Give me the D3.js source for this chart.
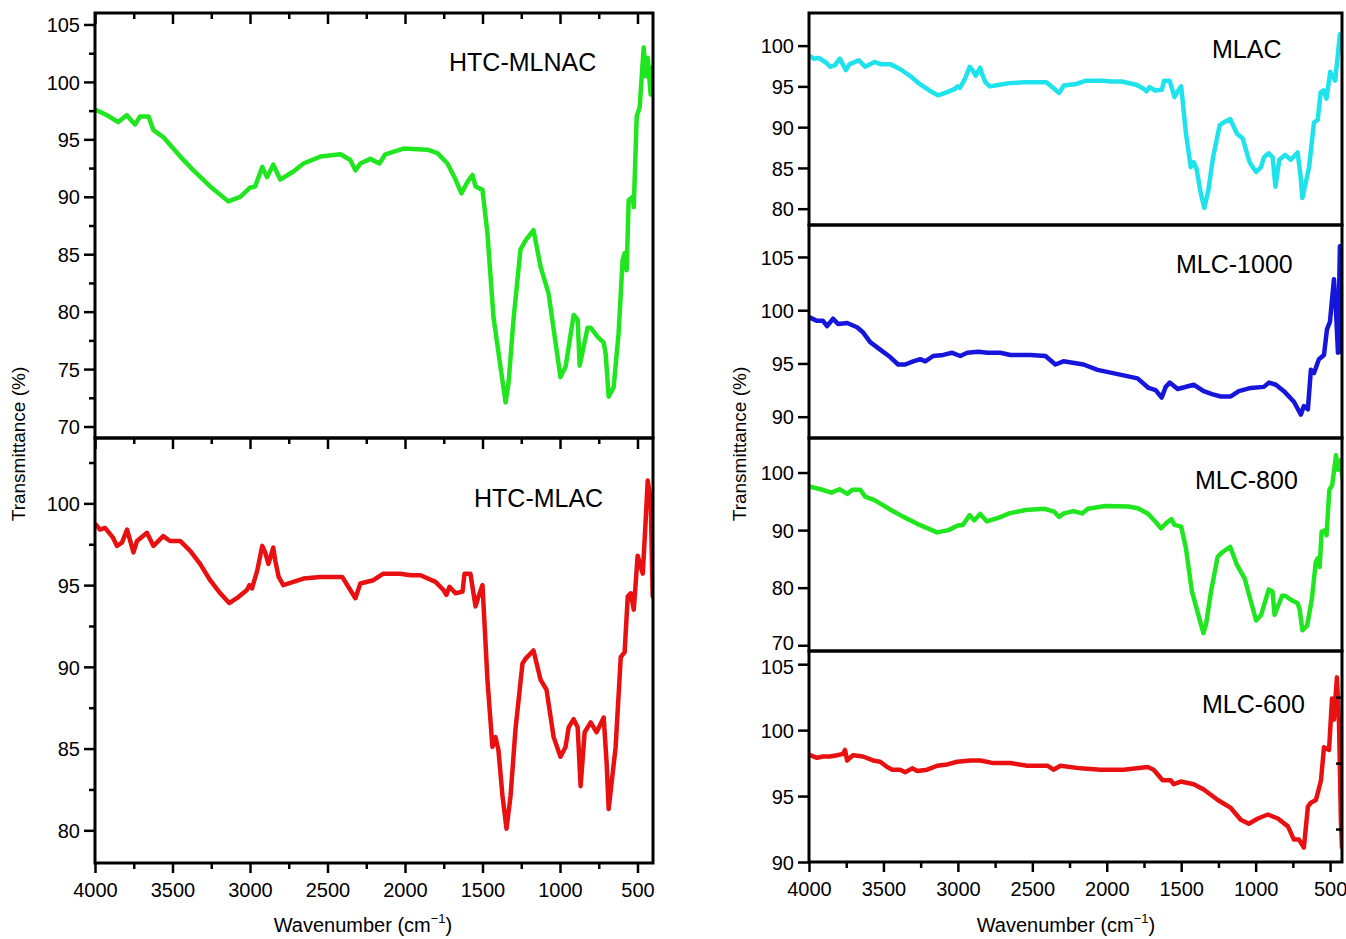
<!DOCTYPE html>
<html>
<head>
<meta charset="utf-8">
<script src="https://cdn.jsdelivr.net/npm/d3@7/dist/d3.min.js"></script>
<style>
  body { margin: 0; background: #fff; }
  svg { font-family: "Liberation Sans", Arial, sans-serif; }
</style>
</head>
<body>
<div id="chart"></div>
<script>
// FTIR spectra: [wavenumber (cm-1), transmittance (%)]
var htcMlnac = [
  [4000, 97.6], [3922, 97.1], [3850, 96.5], [3795, 97.1], [3742, 96.3], [3709, 97.0],
  [3655, 97.0], [3623, 95.8], [3560, 95.2], [3450, 93.5], [3365, 92.3], [3257, 90.9],
  [3140, 89.6], [3063, 90.0], [3000, 90.8], [2967, 90.9], [2921, 92.6], [2890, 91.7],
  [2850, 92.8], [2805, 91.5], [2720, 92.2], [2655, 92.9], [2546, 93.5], [2417, 93.7],
  [2353, 93.2], [2320, 92.3], [2288, 92.9], [2224, 93.3], [2165, 92.9], [2127, 93.7],
  [2010, 94.2], [1855, 94.1], [1791, 93.8], [1726, 92.9], [1674, 91.5], [1636, 90.3],
  [1597, 91.3], [1565, 91.9], [1545, 90.9], [1500, 90.6], [1468, 86.8], [1429, 79.5],
  [1384, 75.2], [1351, 72.1], [1332, 73.8], [1300, 79.3], [1255, 85.4], [1222, 86.2],
  [1171, 87.1], [1125, 83.9], [1074, 81.6], [997, 74.3], [964, 75.2], [912, 79.7],
  [886, 79.3], [873, 75.3], [822, 78.6], [802, 78.6], [757, 77.8], [718, 77.3],
  [705, 76.3], [686, 72.6], [654, 73.4], [622, 78.1], [596, 84.5], [583, 85.1],
  [570, 83.6], [557, 89.7], [531, 90.0], [524, 89.1], [505, 97.0], [486, 97.8],
  [460, 103.0], [447, 100.5], [434, 102.1], [415, 98.9], [402, 101.3]
];

var htcMlac = [
  [3994, 98.7], [3968, 98.4], [3935, 98.5], [3884, 97.9], [3858, 97.4], [3826, 97.6],
  [3793, 98.4], [3752, 97.0], [3729, 97.7], [3690, 98.0], [3665, 98.2], [3623, 97.4],
  [3560, 98.0], [3516, 97.7], [3451, 97.7], [3386, 97.1], [3322, 96.3], [3257, 95.3],
  [3192, 94.5], [3134, 93.9], [3085, 94.2], [3020, 94.7], [3003, 95.0], [2987, 94.8],
  [2953, 95.9], [2921, 97.4], [2902, 97.0], [2881, 96.3], [2850, 97.3], [2837, 96.5],
  [2815, 95.5], [2785, 95.0], [2720, 95.2], [2655, 95.4], [2546, 95.5], [2405, 95.5],
  [2353, 94.7], [2320, 94.2], [2288, 95.1], [2204, 95.3], [2140, 95.7], [2030, 95.7],
  [1965, 95.6], [1900, 95.6], [1803, 95.2], [1752, 94.7], [1733, 94.4], [1713, 94.9],
  [1674, 94.5], [1629, 94.6], [1616, 95.7], [1578, 95.7], [1545, 93.7], [1526, 94.3],
  [1500, 95.0], [1468, 89.2], [1436, 85.1], [1416, 85.7], [1397, 84.9], [1371, 82.1],
  [1345, 80.1], [1319, 82.1], [1287, 86.2], [1242, 90.2], [1222, 90.5], [1171, 91.0],
  [1125, 89.2], [1087, 88.6], [1041, 85.7], [997, 84.5], [964, 85.1], [944, 86.3],
  [912, 86.8], [886, 86.3], [867, 82.7], [841, 86.0], [802, 86.6], [764, 86.0],
  [718, 86.9], [699, 84.1], [686, 81.3], [660, 83.5], [641, 85.1], [608, 90.6],
  [583, 90.9], [563, 94.3], [544, 94.5], [524, 93.5], [499, 96.8], [479, 96.1],
  [466, 95.7], [447, 99.0], [434, 101.4], [415, 100.2], [402, 94.3]
];

var mlc1000 = [
  [3993, 99.3], [3946, 99.0], [3906, 99.0], [3879, 98.5], [3838, 99.2], [3805, 98.7],
  [3744, 98.8], [3677, 98.4], [3636, 97.9], [3589, 97.0], [3522, 96.3], [3455, 95.6],
  [3401, 94.9], [3354, 94.9], [3300, 95.2], [3253, 95.4], [3219, 95.2], [3166, 95.7],
  [3098, 95.8], [3038, 96.0], [2984, 95.7], [2937, 96.0], [2863, 96.1], [2802, 96.0],
  [2715, 96.0], [2647, 95.8], [2513, 95.8], [2412, 95.7], [2345, 94.9], [2291, 95.2],
  [2156, 94.9], [2062, 94.4], [1927, 94.0], [1793, 93.6], [1719, 92.7], [1672, 92.5],
  [1631, 91.8], [1604, 92.8], [1577, 93.2], [1524, 92.6], [1416, 93.0], [1349, 92.4],
  [1288, 92.1], [1234, 91.9], [1167, 91.9], [1113, 92.4], [1032, 92.7], [945, 92.8],
  [911, 93.2], [864, 93.0], [810, 92.4], [743, 91.4], [696, 90.2], [676, 91.0],
  [649, 90.7], [629, 94.4], [608, 94.1], [575, 95.4], [541, 95.8], [521, 98.2],
  [501, 98.9], [474, 102.9], [461, 100.1], [447, 96.0], [434, 106.0], [420, 102.3],
  [420, 96.0]
];

var mlc600 = [
  [3993, 98.1], [3946, 97.9], [3906, 98.0], [3859, 98.0], [3812, 98.1], [3771, 98.2],
  [3758, 98.5], [3744, 97.7], [3704, 98.1], [3637, 98.0], [3570, 97.7], [3522, 97.6],
  [3475, 97.2], [3441, 97.0], [3388, 97.0], [3354, 96.8], [3307, 97.1], [3273, 96.9],
  [3206, 97.0], [3139, 97.3], [3071, 97.4], [3004, 97.6], [2917, 97.7], [2849, 97.7],
  [2762, 97.5], [2647, 97.5], [2533, 97.3], [2445, 97.3], [2399, 97.3], [2358, 97.0],
  [2311, 97.3], [2176, 97.1], [2042, 97.0], [1887, 97.0], [1725, 97.2], [1685, 97.0],
  [1625, 96.2], [1571, 96.2], [1550, 95.9], [1503, 96.1], [1416, 95.9], [1349, 95.5],
  [1254, 94.7], [1167, 94.1], [1100, 93.2], [1046, 92.9], [985, 93.3], [918, 93.6],
  [851, 93.3], [783, 92.7], [743, 91.7], [709, 91.7], [676, 91.1], [649, 94.2],
  [629, 94.5], [595, 94.7], [561, 96.2], [541, 98.7], [507, 98.5], [487, 102.4],
  [474, 100.8], [454, 104.0], [440, 100.5], [427, 93.0], [420, 91.1]
];

// MLAC and MLC-800 are plotted with the same traces as HTC-MLAC and HTC-MLNAC
var mlac = htcMlac;
var mlc800 = htcMlnac;

var seriesNames = ["HTC-MLNAC", "HTC-MLAC", "MLAC", "MLC-1000", "MLC-800", "MLC-600"];
var seriesData = [htcMlnac, htcMlac, mlac, mlc1000, mlc800, mlc600];
var seriesColors = ["#1fe61f", "#e81010", "#1ee3ec", "#1515dc", "#1fe61f", "#e81010"];

var xTicksMajor = [4000, 3500, 3000, 2500, 2000, 1500, 1000, 500];
var xTicksMinor = [3750, 3250, 2750, 2250, 1750, 1250, 750];

var yDomains = [[69, 106], [78, 104], [78, 104], [88, 108], [69, 106], [90, 106]];
var yTicks = [
  [70, 75, 80, 85, 90, 95, 100, 105],
  [80, 85, 90, 95, 100],
  [80, 85, 90, 95, 100],
  [90, 95, 100, 105],
  [70, 80, 90, 100],
  [90, 95, 100, 105]
];
var yMinor = [
  [72.5, 77.5, 82.5, 87.5, 92.5, 97.5, 102.5],
  [82.5, 87.5, 92.5, 97.5, 102.5],
  [], [], [], []
];
var rightMinor = [[], [], [], [], [], [92.5, 97.5, 102.5]];

// layout (pixel boxes of each panel)
var panels = [
  { x0: 95, x1: 653, y0: 13, y1: 438, wEnd: 400, topTicks: true, bottom: false, lx: 449, ly: 71 },
  { x0: 95, x1: 653, y0: 438, y1: 863, wEnd: 400, topTicks: true, bottom: true, lx: 474, ly: 507 },
  { x0: 809, x1: 1342, y0: 13, y1: 225, wEnd: 420, topTicks: false, bottom: false, lx: 1212, ly: 58 },
  { x0: 809, x1: 1342, y0: 225, y1: 438, wEnd: 420, topTicks: false, bottom: false, lx: 1176, ly: 273 },
  { x0: 809, x1: 1342, y0: 438, y1: 651, wEnd: 420, topTicks: false, bottom: false, lx: 1195, ly: 489 },
  { x0: 809, x1: 1342, y0: 651, y1: 862, wEnd: 420, topTicks: false, bottom: true, lx: 1202, ly: 713 }
];

var svg = d3.select("#chart").append("svg")
  .attr("width", 1346)
  .attr("height", 939);

var fontSize = 20;

function styleAxis(g) {
  g.select(".domain").remove();
  g.selectAll(".tick line").attr("stroke", "#000").attr("stroke-width", 2.5);
  g.selectAll(".tick text").attr("fill", "#000").style("font-size", fontSize + "px");
}

panels.forEach(function(p, i) {
  var x = d3.scaleLinear().domain([4000, p.wEnd]).range([p.x0, p.x1]);
  var y = d3.scaleLinear().domain(yDomains[i]).range([p.y1, p.y0]);

  var clipId = "clip" + i;
  svg.append("clipPath").attr("id", clipId)
    .append("rect")
    .attr("x", p.x0).attr("y", p.y0)
    .attr("width", p.x1 - p.x0).attr("height", p.y1 - p.y0);

  var line = d3.line()
    .x(d => x(d[0]))
    .y(d => y(d[1]));

  svg.append("path")
    .datum(seriesData[i])
    .attr("clip-path", "url(#" + clipId + ")")
    .attr("fill", "none")
    .attr("stroke", seriesColors[i])
    .attr("stroke-width", 4.5)
    .attr("stroke-linejoin", "round")
    .attr("stroke-linecap", "round")
    .attr("d", line);

  // left axis
  var gy = svg.append("g")
    .attr("transform", `translate(${p.x0},0)`)
    .call(d3.axisLeft(y).tickValues(yTicks[i]).tickFormat(d3.format("d")).tickSize(11).tickPadding(4));
  styleAxis(gy);
  gy.selectAll(".tick text").attr("dy", "0.36em");
  // labels squeezed at the join of MLC-800 / MLC-600
  if (i === 4) gy.selectAll(".tick text").filter(d => d === 70).attr("dy", "0.2em");
  if (i === 5) gy.selectAll(".tick text").filter(d => d === 105).attr("dy", "0.48em");

  if (yMinor[i].length) {
    var gym = svg.append("g")
      .attr("transform", `translate(${p.x0},0)`)
      .call(d3.axisLeft(y).tickValues(yMinor[i]).tickFormat("").tickSize(6));
    styleAxis(gym);
  }
  if (rightMinor[i].length) {
    var gyr = svg.append("g")
      .attr("transform", `translate(${p.x1},0)`)
      .call(d3.axisRight(y).tickValues(rightMinor[i]).tickFormat("").tickSize(-6));
    styleAxis(gyr);
  }

  if (p.topTicks) {
    var gt = svg.append("g")
      .attr("transform", `translate(0,${p.y0})`)
      .call(d3.axisTop(x).tickValues(xTicksMajor).tickFormat("").tickSize(-11));
    styleAxis(gt);
    var gtm = svg.append("g")
      .attr("transform", `translate(0,${p.y0})`)
      .call(d3.axisTop(x).tickValues(xTicksMinor).tickFormat("").tickSize(-6));
    styleAxis(gtm);
  }

  if (p.bottom) {
    var gx = svg.append("g")
      .attr("transform", `translate(0,${p.y1})`)
      .call(d3.axisBottom(x).tickValues(xTicksMajor).tickFormat(d3.format("d")).tickSize(10).tickPadding(10));
    styleAxis(gx);
    var gxm = svg.append("g")
      .attr("transform", `translate(0,${p.y1})`)
      .call(d3.axisBottom(x).tickValues(xTicksMinor).tickFormat("").tickSize(6));
    styleAxis(gxm);
  }

  svg.append("rect")
    .attr("x", p.x0).attr("y", p.y0)
    .attr("width", p.x1 - p.x0).attr("height", p.y1 - p.y0)
    .attr("fill", "none")
    .attr("stroke", "#000")
    .attr("stroke-width", 3);

  svg.append("text")
    .attr("x", p.lx).attr("y", p.ly)
    .style("font-size", "25px")
    .attr("fill", "#000")
    .text(seriesNames[i]);
});

// axis titles
[[25, 444], [746, 444]].forEach(function(pos) {
  svg.append("text")
    .attr("transform", `translate(${pos[0]},${pos[1]}) rotate(-90)`)
    .attr("text-anchor", "middle")
    .style("font-size", "19px")
    .text("Transmittance (%)");
});

[363, 1066].forEach(function(cx) {
  var t = svg.append("text")
    .attr("x", cx).attr("y", 932)
    .attr("text-anchor", "middle")
    .style("font-size", "20px");
  t.append("tspan").text("Wavenumber (cm");
  t.append("tspan").attr("dy", -9).style("font-size", "13px").text("\u22121");
  t.append("tspan").attr("dy", 9).text(")");
});
</script>
</body>
</html>
